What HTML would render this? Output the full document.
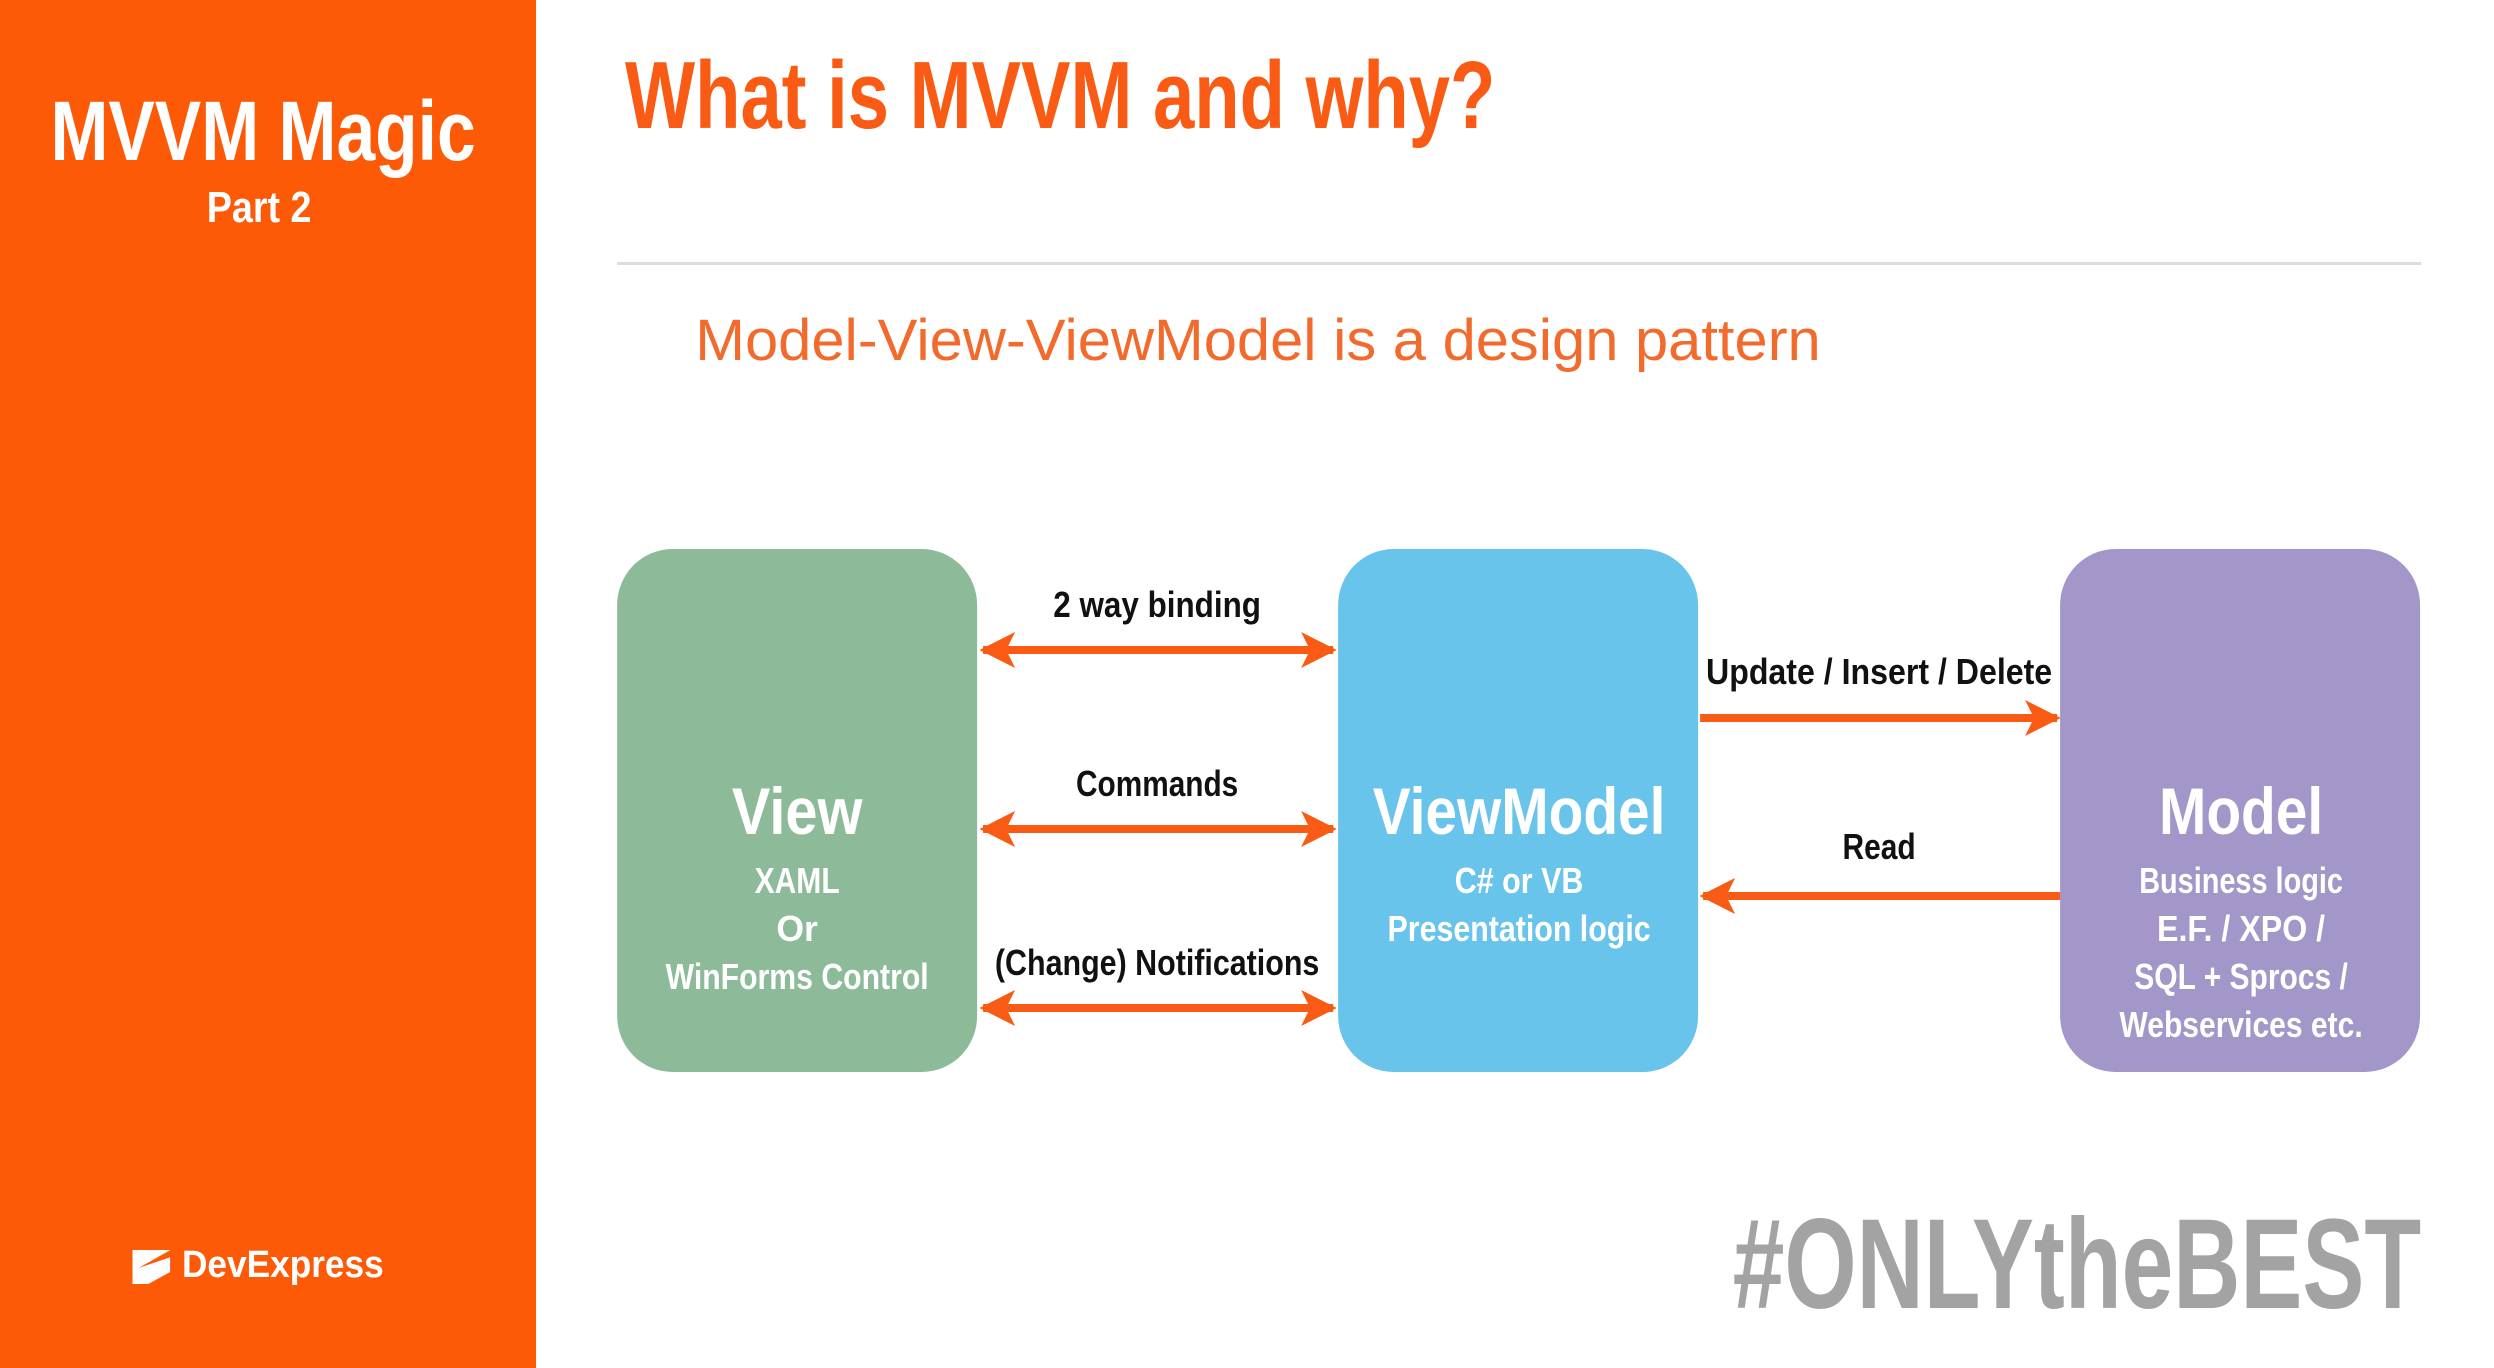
<!DOCTYPE html>
<html><head><meta charset="utf-8"><style>
html,body{margin:0;padding:0;background:#fff;}
svg{display:block;}
text{font-family:"Liberation Sans Narrow","Liberation Sans",sans-serif;}
</style></head><body>
<svg width="2494" height="1368" viewBox="0 0 2494 1368" xmlns="http://www.w3.org/2000/svg">
<defs>
<marker id="ah" viewBox="0 0 10 10" refX="9" refY="5" markerWidth="4.5" markerHeight="4.8" orient="auto-start-reverse" markerUnits="strokeWidth">
<path d="M0,0 L10,5 L0,10 L2.5,5 Z" fill="#f95b14"/></marker>
</defs>
<g transform="scale(0.989,1)">
<rect x="0" y="0" width="542" height="1368" fill="#fd5a08"/>
<text x="266" y="160" font-size="84" font-weight="bold" fill="#fff" text-anchor="middle" textLength="430" lengthAdjust="spacingAndGlyphs">MVVM Magic</text>
<text x="262" y="222" font-size="44" font-weight="bold" fill="#fff" text-anchor="middle" textLength="106" lengthAdjust="spacingAndGlyphs">Part 2</text>
<path d="M134,1250 L172,1250 L172,1272 L150,1284 L134,1284 Z" fill="#fff"/>
<path d="M140,1268 L176,1248 L176,1256 Z" fill="#fd5a08"/>
<text x="184" y="1277" font-size="38" font-weight="bold" fill="#fff" textLength="204" lengthAdjust="spacingAndGlyphs">DevExpress</text>

<text x="632" y="128" font-size="96" font-weight="bold" fill="#f95b14" textLength="880" lengthAdjust="spacingAndGlyphs">What is MVVM and why?</text>
<rect x="624" y="262" width="1824" height="3" fill="#dcdcdc"/>
<text x="703" y="360" font-size="58" fill="#f26a2c" textLength="1138" lengthAdjust="spacingAndGlyphs">Model-View-ViewModel is a design pattern</text>

<rect x="624" y="549" width="364" height="523" rx="56" fill="#8dbb99"/>
<rect x="1353" y="549" width="364" height="523" rx="56" fill="#69c4eb"/>
<rect x="2083" y="549" width="364" height="523" rx="56" fill="#a397c9"/>

<g fill="#fff" text-anchor="middle" font-weight="bold">
<text x="806" y="834" font-size="66" textLength="132" lengthAdjust="spacingAndGlyphs">View</text>
<text x="806" y="893" font-size="36" textLength="86" lengthAdjust="spacingAndGlyphs">XAML</text>
<text x="806" y="941" font-size="36">Or</text>
<text x="806" y="989" font-size="36" textLength="266" lengthAdjust="spacingAndGlyphs">WinForms Control</text>
<text x="1536" y="834" font-size="66" textLength="296" lengthAdjust="spacingAndGlyphs">ViewModel</text>
<text x="1536" y="893" font-size="36" textLength="130" lengthAdjust="spacingAndGlyphs">C# or VB</text>
<text x="1536" y="941" font-size="36" textLength="266" lengthAdjust="spacingAndGlyphs">Presentation logic</text>
<text x="2266" y="834" font-size="66" textLength="166" lengthAdjust="spacingAndGlyphs">Model</text>
<text x="2266" y="893" font-size="36" textLength="206" lengthAdjust="spacingAndGlyphs">Business logic</text>
<text x="2266" y="941" font-size="36" textLength="170" lengthAdjust="spacingAndGlyphs">E.F. / XPO /</text>
<text x="2266" y="989" font-size="36" textLength="216" lengthAdjust="spacingAndGlyphs">SQL + Sprocs /</text>
<text x="2266" y="1037" font-size="36" textLength="246" lengthAdjust="spacingAndGlyphs">Webservices etc.</text>
</g>

<g stroke="#f95b14" stroke-width="8" fill="none">
<line x1="994" y1="650" x2="1348" y2="650" marker-start="url(#ah)" marker-end="url(#ah)"/>
<line x1="994" y1="829" x2="1348" y2="829" marker-start="url(#ah)" marker-end="url(#ah)"/>
<line x1="994" y1="1008" x2="1348" y2="1008" marker-start="url(#ah)" marker-end="url(#ah)"/>
<line x1="1719" y1="718" x2="2080" y2="718" marker-end="url(#ah)"/>
<line x1="2083" y1="896" x2="1722" y2="896" marker-end="url(#ah)"/>
</g>

<g fill="#111" text-anchor="middle" font-weight="bold" font-size="36">
<text x="1170" y="617" textLength="210" lengthAdjust="spacingAndGlyphs">2 way binding</text>
<text x="1170" y="796" textLength="164" lengthAdjust="spacingAndGlyphs">Commands</text>
<text x="1170" y="975" textLength="328" lengthAdjust="spacingAndGlyphs">(Change) Notifications</text>
<text x="1900" y="684" textLength="350" lengthAdjust="spacingAndGlyphs">Update / Insert / Delete</text>
<text x="1900" y="859" textLength="74" lengthAdjust="spacingAndGlyphs">Read</text>
</g>

<text x="1752" y="1308" font-size="128" font-weight="bold" fill="#a3a3a3" textLength="696" lengthAdjust="spacingAndGlyphs">#ONLYtheBEST</text>
</g>
</svg>
</body></html>
